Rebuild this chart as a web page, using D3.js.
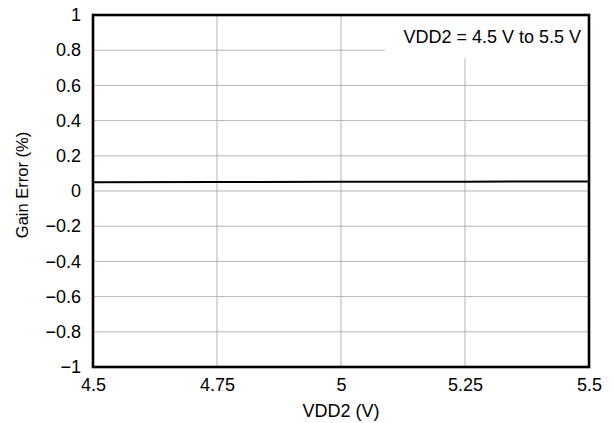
<!DOCTYPE html>
<html>
<head>
<meta charset="utf-8">
<script src="https://cdn.jsdelivr.net/npm/d3@7"></script>
<style>
  body { margin: 0; background: #fff; }
  text { font-family: "Liberation Sans", Arial, sans-serif; fill: #000; }
</style>
</head>
<body>
<div id="chart"></div>
<script>
const vdd2 = [4.5, 4.75, 5, 5.25, 5.5]
const gainError = [0.05, 0.051, 0.052, 0.053, 0.054]
const xTicks = [4.5, 4.75, 5, 5.25, 5.5]
const yTicks = [-1, -0.8, -0.6, -0.4, -0.2, 0, 0.2, 0.4, 0.6, 0.8, 1]

const W = 613, H = 423
const margin = { top: 15, right: 24, bottom: 56, left: 93 }
const w = W - margin.left - margin.right
const h = H - margin.top - margin.bottom
const fs = 18

const svg = d3.select('#chart').append('svg')
  .attr('width', W).attr('height', H)
const g = svg.append('g')
  .attr('transform', 'translate(' + margin.left + ',' + margin.top + ')')

const x = d3.scaleLinear().domain([4.5, 5.5]).range([0, w])
const y = d3.scaleLinear().domain([-1, 1]).range([h, 0])

// grid
g.selectAll('line.gy').data(yTicks.slice(1, -1)).enter().append('line')
  .attr('x1', 0).attr('x2', w)
  .attr('y1', d => y(d)).attr('y2', d => y(d))
  .attr('stroke', '#b4b4b4').attr('stroke-width', 1)
g.selectAll('line.gx').data(xTicks.slice(1, -1)).enter().append('line')
  .attr('y1', 0).attr('y2', h)
  .attr('x1', d => x(d)).attr('x2', d => x(d))
  .attr('stroke', '#b4b4b4').attr('stroke-width', 1)

// annotation box hides grid behind it
g.append('rect')
  .attr('x', w - 204).attr('y', 0).attr('width', 204).attr('height', 43)
  .attr('fill', '#fff')
g.append('text')
  .attr('x', w - 8).attr('y', 28)
  .attr('text-anchor', 'end').attr('font-size', fs)
  .text('VDD2 = 4.5 V to 5.5 V')

// data line
const line = d3.line().x((d, i) => x(vdd2[i])).y(d => y(d))
g.append('path').datum(gainError)
  .attr('d', line).attr('fill', 'none')
  .attr('stroke', '#000').attr('stroke-width', 2)

// frame
g.append('rect').attr('x', 0).attr('y', 0).attr('width', w).attr('height', h)
  .attr('fill', 'none').attr('stroke', '#000').attr('stroke-width', 2.6)

// axes
const fmt = d => String(d).replace('-', '\u2212')
const yAxis = g.append('g').call(d3.axisLeft(y).tickValues(yTicks).tickSize(0).tickPadding(12).tickFormat(fmt))
yAxis.select('.domain').remove()
yAxis.selectAll('text').attr('font-size', fs).style('font-family', '"Liberation Sans", Arial, sans-serif')

const xAxis = g.append('g').attr('transform', 'translate(0,' + h + ')')
  .call(d3.axisBottom(x).tickValues(xTicks).tickSize(0).tickPadding(11).tickFormat(d => String(d)))
xAxis.select('.domain').remove()
xAxis.selectAll('text').attr('font-size', fs).style('font-family', '"Liberation Sans", Arial, sans-serif')

// axis titles
svg.append('text')
  .attr('x', margin.left + w / 2).attr('y', 416.5)
  .attr('text-anchor', 'middle').attr('font-size', fs)
  .text('VDD2 (V)')
svg.append('text')
  .attr('transform', 'translate(28,185)rotate(-90)')
  .attr('text-anchor', 'middle').attr('font-size', 16.5)
  .text('Gain Error (%)')
</script>
</body>
</html>
